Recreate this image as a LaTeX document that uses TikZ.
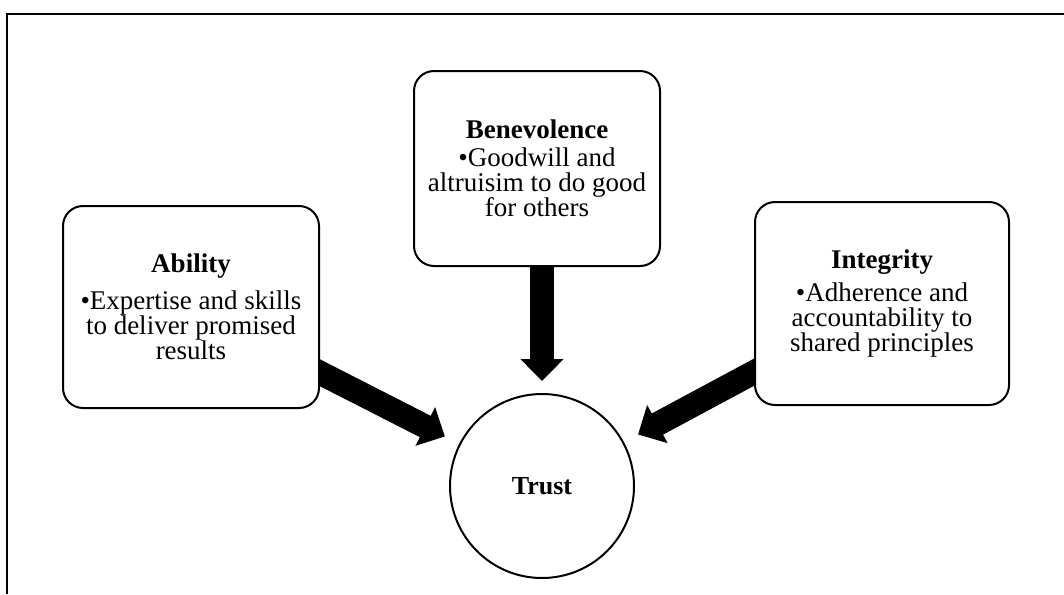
\documentclass[tikz,border=0pt]{standalone}
\usepackage{fontspec}
\setmainfont{Liberation Serif}
\usetikzlibrary{arrows.meta,backgrounds}
\tikzset{>=latex}
\tikzset{
  factor/.style={draw, fill=white, line width=2pt, rounded corners=20pt,
    align=center, inner sep=0pt, font=\fontsize{27}{25}\selectfont},
  hub/.style={draw, fill=white, circle, line width=2pt, minimum size=184pt,
    font=\fontsize{26}{25}\selectfont\bfseries},
  bigarrow/.style={line width=24pt, -{Triangle[width=42pt,length=22pt]}}
}

\begin{document}
\begin{tikzpicture}[x=1pt, y=-1pt]
    \useasboundingbox (0,0) rectangle (1064,594);
    \draw[line width=2.5pt] (7,594) -- (7,14) -- (1064,14);
    \node[factor, minimum width=256pt, minimum height=202pt] (abil) at (191,307)
      {\textbf{Ability}\\[12pt] \textbullet Expertise and skills\\ to deliver promised\\ results};
    \node[factor, minimum width=246pt, minimum height=195pt] (benev) at (537,168.5)
      {\textbf{Benevolence}\\[3pt] \textbullet Goodwill and\\ altruisim to do good\\ for others};
    \node[factor, minimum width=254pt, minimum height=203pt] (integ) at (882,303.5)
      {\textbf{Integrity}\\[8pt] \textbullet Adherence and\\ accountability to\\ shared principles};
    \node[hub] (trust) at (542,486) {Trust};
    \begin{scope}[on background layer]
      \draw[bigarrow, shorten >=16pt] (abil.center) -- (trust);
      \draw[bigarrow, shorten >=12pt] (trust |- benev.center) -- (trust);
      \draw[bigarrow, shorten >=16pt] (integ.center) -- (trust);
    \end{scope}
  \end{tikzpicture}
\end{document}
